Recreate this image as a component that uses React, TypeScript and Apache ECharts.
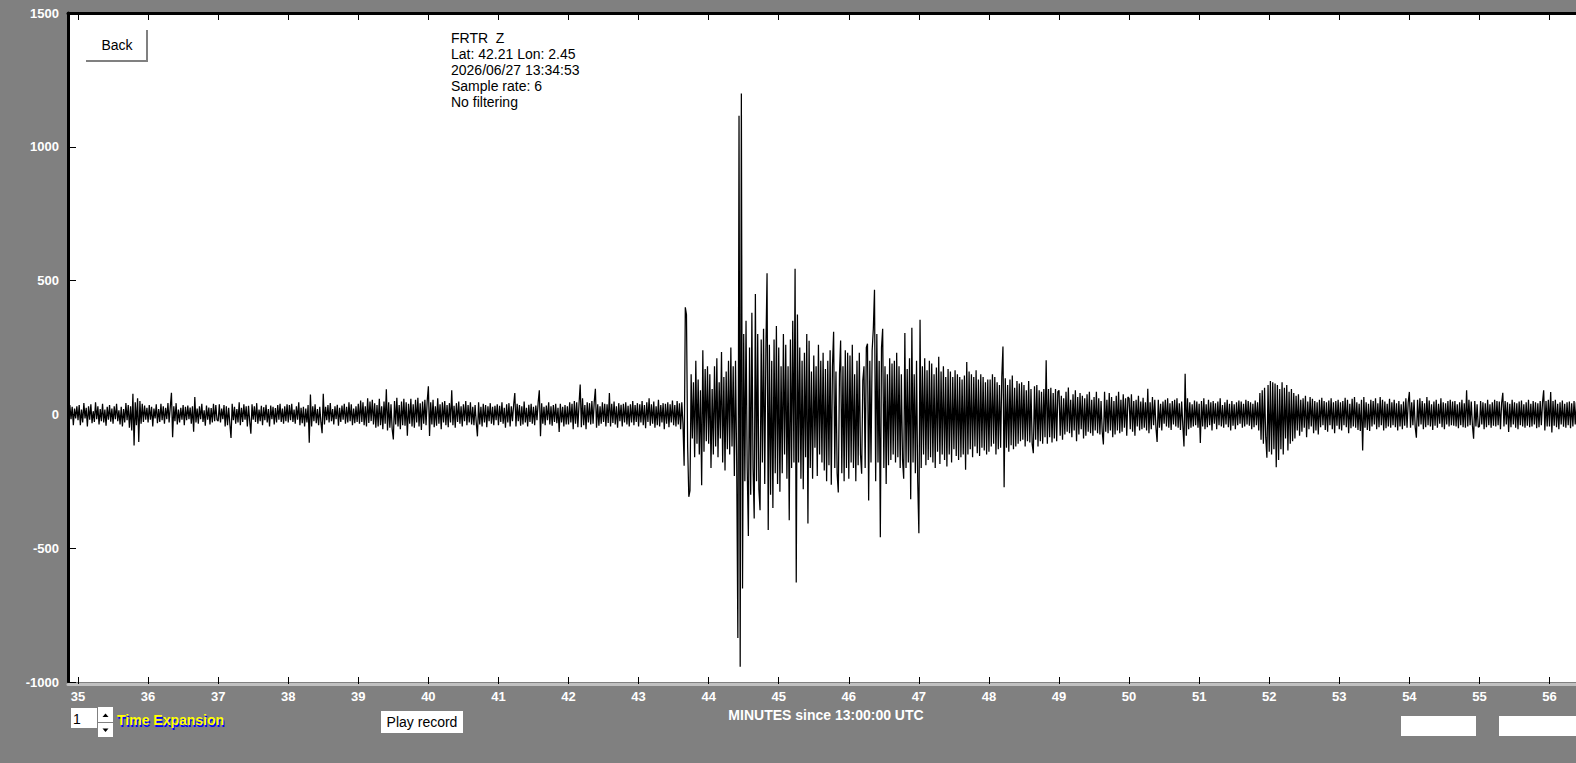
import React, { useEffect, useRef } from "react";
import * as echarts from "echarts";

// ---- Trace samples (counts), one value every second (1/60 minute) ----
const pre = [12,-30,35,-18,28,-40,22,-15,30];
const m35 = [-22,35,-40,18,-30,42,-15,25,-45,30,-20,38,-33,12,-28,45,-18,30,-38,20,-25,40,-30,18,-42,28,-20,35,-27,22,-35,30,-18,40,-25,15,-38,28,-45,20,-30,42,-22,35,-50,30,-60,77,-116,45,-40,60,-103,50,-35,40,-28,33,-20,25];
const m36 = [-30,35,-20,28,-45,22,-15,38,-33,20,-28,40,-22,30,-35,25,-18,42,-30,28,81,-85,30,-25,42,-38,18,-30,25,-20,35,-40,28,-22,33,-18,26,-35,30,-65,65,-30,22,-35,30,-18,40,-28,15,-42,33,-20,26,-38,24,-30,40,-25,35,-20];
const m37 = [-25,38,-30,22,-18,35,-45,30,-40,25,-35,-88,40,-22,28,-35,20,-30,45,-40,25,-28,38,-20,30,-45,32,-25,-72,38,-20,30,-28,42,-35,18,-25,32,-40,27,-22,36,-30,20,-45,33,-18,28,-38,24,-30,35,-20,40,-28,22,-35,30,-25,38];
const m38 = [-30,35,-22,40,-28,18,-35,30,-20,45,-40,25,-33,28,-45,22,-30,35,-106,74,-45,30,-25,38,-33,20,-40,28,-30,-70,77,-38,28,-22,35,-30,42,-25,20,-38,30,-18,36,-42,25,-28,33,-20,40,-35,28,-30,45,-25,38,-40,22,-33,30,-28];
const m39 = [40,-35,52,-28,45,-40,30,-45,60,-32,48,-25,55,-38,42,-50,35,-45,58,-40,30,-55,48,-35,94,-60,45,-50,38,-55,-94,50,-38,62,-45,35,-55,48,-40,58,-42,45,-80,40,-35,58,-45,38,-50,55,-30,62,-45,42,-58,48,-35,55,-40,50];
const m40 = [105,-81,45,-38,55,-48,30,-42,60,-35,38,-55,45,-30,50,-40,35,-48,42,-30,90,-40,32,-50,42,-28,48,-35,30,-45,38,-25,50,-40,35,-30,45,-38,28,-40,35,-30,-82,45,-38,28,-45,40,-30,35,-48,30,-25,42,-35,28,-40,32,-22,38];
const m41 = [-40,32,-28,45,-35,25,-50,38,-30,42,-45,30,-25,35,80,-45,40,-25,35,-42,30,-38,48,-30,25,-45,36,-28,40,-35,28,-40,33,-22,45,90,-82,42,-35,28,-40,33,-22,45,-38,30,-42,35,-28,40,-33,25,-66,40,-30,28,-45,35,-38,30];
const m42 = [-38,45,-30,40,-55,50,-35,45,-48,40,112,-48,60,-40,35,-55,45,-30,42,-38,50,-35,45,96,-50,38,-42,30,-35,45,-28,40,-45,38,-32,80,-45,40,-32,48,-38,30,-50,42,-25,36,-45,40,-30,45,-38,32,-45,38,-30,50,-40,35,-28,42];
const m43 = [-45,38,-30,50,-40,35,-52,45,-28,60,-42,38,-35,48,-50,30,-40,55,-45,35,-30,42,-55,40,-35,45,-48,38,-30,52,-40,35,-45,50,-38,42,-55,45,-35,-192,400,373,-120,-308,-285,150,-90,120,-160,200,-110,130,-150,90,-265,240,-140,170,-100,180];
const m44 = [-110,150,-200,95,-150,180,-120,210,-160,120,-90,233,-180,140,-210,160,-130,200,-150,250,-120,180,-230,200,-180,-836,1116,-943,1199,-651,300,-250,350,-200,-454,250,-300,380,-200,-389,450,-250,300,-280,-358,280,-180,320,-260,240,527,-432,260,-300,200,-350,280,-220,330,-260];
const m45 = [250,-289,180,-220,300,-150,260,-240,180,-396,280,-200,350,-180,544,-628,373,-180,250,-240,200,-280,230,-160,300,-408,275,-200,160,-240,220,-125,180,-230,260,-150,200,-180,230,-210,170,-250,200,-190,240,-263,180,309,-200,160,-220,-292,150,276,-220,180,-250,240,-200,230];
const m46 = [-240,220,-180,260,-200,150,-250,200,-190,230,-150,-222,127,180,-200,250,264,-322,200,-180,240,320,466,-250,300,-180,200,-459,250,320,-200,180,-260,150,-190,210,-170,190,-150,200,-180,230,-160,180,-200,150,-170,-240,304,-200,170,-180,210,-317,324,-180,150,-220,200,-250];
const m47 = [-444,354,-200,180,-150,210,-190,165,-170,200,-160,190,-180,150,-200,175,-140,215,-185,160,-150,180,-170,140,-195,170,-150,160,-180,140,-130,165,-155,150,-170,140,-160,130,-150,145,-207,196,-150,160,-130,150,-160,140,-120,165,-145,130,-155,150,-125,140,-135,120,-150,130];
const m48 = [-140,130,-120,150,-110,140,-150,120,-130,110,-125,140,254,-272,135,-125,110,-140,130,-115,145,-130,100,-120,125,-110,115,-100,120,-95,110,-120,90,-100,125,-105,95,-110,-145,105,-95,110,-120,90,-100,85,-110,95,-85,202,-110,95,-85,100,-105,80,-90,95,-100,85];
const m49 = [90,-80,70,-95,60,-75,85,-65,100,-70,55,-85,75,-60,90,-100,65,-75,80,-55,70,-90,60,-80,75,-65,85,-70,55,-80,65,-60,85,-70,60,-75,50,-65,-112,85,-65,55,-70,80,-60,65,-85,50,-75,70,-60,85,-70,55,-65,75,-50,60,-80,65];
const m50 = [60,-55,75,-65,50,-80,55,-45,70,-60,48,-55,62,-50,45,-60,96,-70,45,-55,65,-40,55,-50,-103,55,-50,40,-60,48,-35,55,-45,60,-50,42,-58,50,-38,55,-45,60,-50,42,-58,48,-40,-120,152,-80,60,-55,45,-50,38,-45,52,-40,48,-50];
const m51 = [40,-107,50,-45,60,-55,38,-48,55,-40,45,-60,50,-35,42,-55,48,-40,60,-45,35,-50,45,-38,55,-48,40,-60,50,-42,38,-55,45,-40,52,-35,48,-50,40,-45,55,-38,50,-42,45,-55,40,-48,52,-40,45,-60,80,-95,90,-110,100,-85,-162,110];
const m52 = [-140,125,-150,120,-130,115,-197,110,-170,95,-130,120,-150,100,-90,110,-135,85,-110,95,-100,80,-90,70,-60,75,-80,55,-65,60,-50,70,-85,48,-55,65,-45,58,-70,50,-60,45,-75,55,-48,62,-40,50,-58,45,-65,52,-40,60,-55,45,-70,50,-42,55];
const m53 = [-55,45,-60,50,-40,62,-48,55,-70,40,-52,58,-45,65,-50,45,-58,40,-62,55,-135,65,-50,45,-58,40,-62,55,-45,50,-38,60,-55,42,-48,65,-40,55,-60,48,-52,40,-45,58,-50,45,-40,55,-48,42,-60,50,-45,38,-55,48,-42,60,-50,45];
const m54 = [84,-50,45,-40,55,-48,-87,55,-45,60,-38,50,-55,42,-48,65,-40,52,-45,38,-58,48,-42,55,-50,40,-35,60,-48,45,-55,42,-38,50,-45,55,-40,48,-42,50,-45,38,-52,45,-40,55,-48,42,-50,90,-45,55,-40,48,-42,-91,50,-45,38,-48];
const m55 = [-45,50,-38,45,-55,42,-48,55,-40,38,-50,45,-42,55,-45,50,-40,48,-55,42,81,-45,50,-38,45,-66,40,-48,55,-38,45,-50,42,-55,48,-40,52,-45,38,-50,45,-42,55,-48,40,-45,50,-38,45,-52,42,-48,50,-40,45,90,-60,50,-45,55];
const m56 = [-45,84,-68,50,-42,55,-48,40,-55,45,-38,52,-46,40,-50,45,-40,48,-52,42,-45,50,-38,45,-50];

const segmentStarts = [34.85, 35, 36, 37, 38, 39, 40, 41, 42, 43, 44, 45, 46, 47, 48, 49, 50, 51, 52, 53, 54, 55, 56];
const segmentValues = [pre, m35, m36, m37, m38, m39, m40, m41, m42, m43, m44, m45, m46, m47, m48, m49, m50, m51, m52, m53, m54, m55, m56];
const STEP = 1 / 60;

const minuteTicks = [35, 36, 37, 38, 39, 40, 41, 42, 43, 44, 45, 46, 47, 48, 49, 50, 51, 52, 53, 54, 55, 56];
const X_MIN = 34.857;
const X_MAX = 56.378;
const Y_MIN = -1000;
const Y_MAX = 1500;
const Y_STEP = 500;

const infoLines = ["FRTR  Z", "Lat: 42.21 Lon: 2.45", "2026/06/27 13:34:53", "Sample rate: 6", "No filtering"];
const xTitle = "MINUTES since 13:00:00 UTC";

const FONT = '"Liberation Sans", Arial, sans-serif';

export default function App() {
  const ref = useRef<HTMLDivElement>(null);
  useEffect(() => {
    if (!ref.current) return;
    const chart = echarts.init(ref.current, null, { renderer: "svg" });
    const trace: number[][] = [];
    segmentStarts.forEach((s, k) => {
      segmentValues[k].forEach((v, i) => trace.push([+(s + i * STEP).toFixed(4), v]));
    });
    const labelStyle = {
      color: "#fff",
      fontFamily: FONT,
      fontWeight: "bold" as const,
      fontSize: 13,
      textShadowColor: "#000",
      textShadowOffsetX: 1,
      textShadowOffsetY: 1,
      textShadowBlur: 0,
    };
    chart.setOption({
      animation: false,
      backgroundColor: "#808080",
      grid: {
        left: 68,
        right: 0,
        top: 13,
        bottom: 81,
        show: true,
        backgroundColor: "#ffffff",
        borderWidth: 0,
      },
      xAxis: [
        {
          type: "value",
          position: "bottom",
          min: X_MIN,
          max: X_MAX,
          offset: 2,
          axisLine: { show: true, onZero: false, lineStyle: { color: "#c0c0c0", width: 3 } },
          axisTick: {
            show: true,
            inside: true,
            length: 7,
            customValues: minuteTicks,
            lineStyle: { color: "#000", width: 1 },
          },
          axisLabel: {
            ...labelStyle,
            margin: 6,
            customValues: minuteTicks,
            formatter: (v: number) => String(v),
          },
          splitLine: { show: false },
          name: xTitle,
          nameLocation: "middle",
          nameGap: 22,
          nameTextStyle: {
            ...labelStyle,
            fontSize: 14,
            padding: [0, 0, 0, 8],
          },
        },
        {
          type: "value",
          position: "top",
          min: X_MIN,
          max: X_MAX,
          axisLine: { show: true, onZero: false, lineStyle: { color: "#000", width: 3 } },
          axisTick: {
            show: true,
            inside: true,
            length: 7,
            customValues: minuteTicks,
            lineStyle: { color: "#000", width: 1 },
          },
          axisLabel: { show: false },
          splitLine: { show: false },
        },
      ],
      yAxis: {
        type: "value",
        min: Y_MIN,
        max: Y_MAX,
        interval: Y_STEP,
        axisLine: { show: true, onZero: false, lineStyle: { color: "#000", width: 3 } },
        axisTick: { show: true, inside: true, length: 8, lineStyle: { color: "#000", width: 1 } },
        axisLabel: { ...labelStyle, margin: 9, formatter: (v: number) => String(v) },
        splitLine: { show: false },
      },
      series: [
        {
          type: "line",
          xAxisIndex: 0,
          data: trace,
          symbol: "none",
          showSymbol: false,
          lineStyle: { color: "#000", width: 1.25 },
          z: 3,
        },
      ],
      graphic: {
        elements: [
          // Back button
          { type: "rect", shape: { x: 86, y: 30, width: 62, height: 32 }, style: { fill: "#ffffff" }, z: 10 },
          { type: "rect", shape: { x: 86, y: 60, width: 62, height: 2 }, style: { fill: "#808080" }, z: 11 },
          { type: "rect", shape: { x: 146, y: 30, width: 2, height: 32 }, style: { fill: "#808080" }, z: 11 },
          {
            type: "text", x: 117, y: 45, z: 12,
            style: { text: "Back", font: `14px ${FONT}`, fill: "#000", textAlign: "center", textVerticalAlign: "middle", align: "center", verticalAlign: "middle" },
          },
          // Station info
          {
            type: "text", x: 451, y: 30, z: 12,
            style: { text: infoLines.join("\n"), font: `14px ${FONT}`, lineHeight: 16, fill: "#000", textVerticalAlign: "top", verticalAlign: "top" },
          },
          // Time expansion controls
          { type: "rect", shape: { x: 71, y: 708, width: 26, height: 20 }, style: { fill: "#ffffff" }, z: 10 },
          {
            type: "text", x: 73, y: 719, z: 12,
            style: { text: "1", font: `14px ${FONT}`, fill: "#000", textVerticalAlign: "middle", verticalAlign: "middle" },
          },
          { type: "rect", shape: { x: 98, y: 707, width: 15, height: 15 }, style: { fill: "#ffffff" }, z: 10 },
          { type: "rect", shape: { x: 98, y: 723, width: 15, height: 14 }, style: { fill: "#ffffff" }, z: 10 },
          { type: "polygon", shape: { points: [[102.5, 717], [108.5, 717], [105.5, 713.5]] }, style: { fill: "#000" }, z: 11 },
          { type: "polygon", shape: { points: [[102.5, 728.5], [108.5, 728.5], [105.5, 732]] }, style: { fill: "#000" }, z: 11 },
          {
            type: "text", x: 118, y: 722, z: 11,
            style: { text: "Time Expansion", font: `bold 14px ${FONT}`, fill: "#0000ff", textVerticalAlign: "middle", verticalAlign: "middle" },
          },
          {
            type: "text", x: 117, y: 720, z: 12,
            style: { text: "Time Expansion", font: `bold 14px ${FONT}`, fill: "#ffff00", textVerticalAlign: "middle", verticalAlign: "middle" },
          },
          // Play record button
          { type: "rect", shape: { x: 381, y: 711, width: 82, height: 22 }, style: { fill: "#ffffff" }, z: 10 },
          {
            type: "text", x: 422, y: 722, z: 12,
            style: { text: "Play record", font: `14px ${FONT}`, fill: "#000", textAlign: "center", textVerticalAlign: "middle", align: "center", verticalAlign: "middle" },
          },
          // Blank boxes on the right
          { type: "rect", shape: { x: 1401, y: 716, width: 75, height: 20 }, style: { fill: "#ffffff" }, z: 10 },
          { type: "rect", shape: { x: 1499, y: 716, width: 77, height: 20 }, style: { fill: "#ffffff" }, z: 10 },
        ],
      },
    });
    return () => chart.dispose();
  }, []);
  return (
    <div
      ref={ref}
      style={{ position: "fixed", left: 0, top: 0, width: 1576, height: 763, background: "#808080" }}
    />
  );
}
